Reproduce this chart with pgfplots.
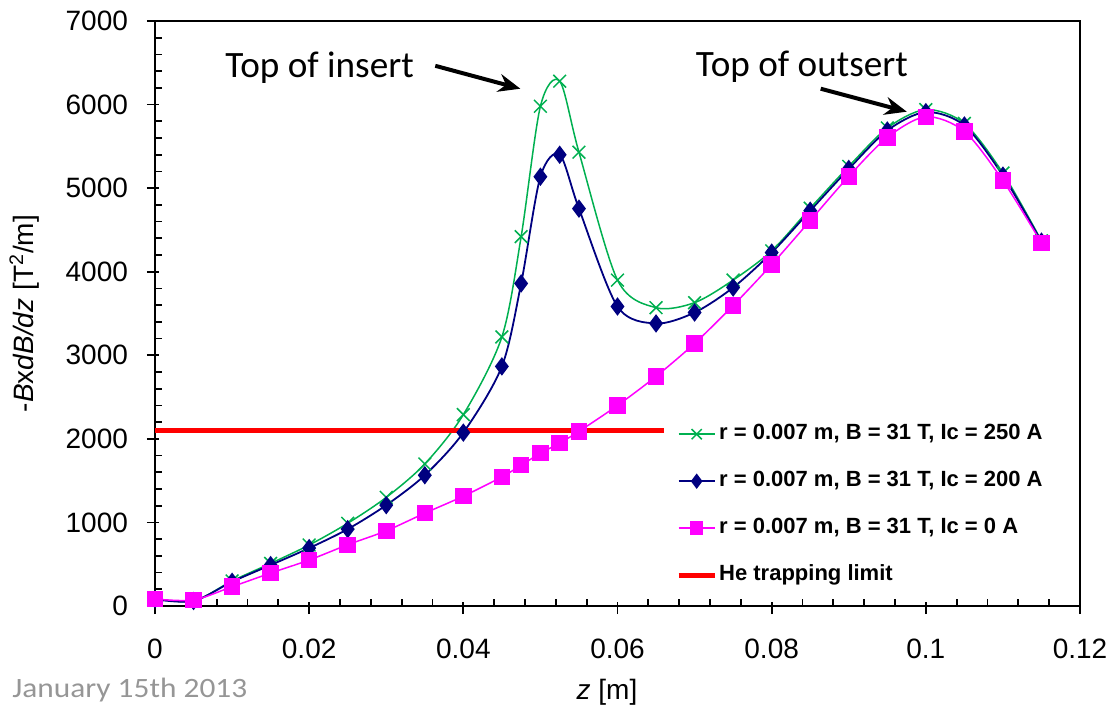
\documentclass[border=0pt]{standalone}
\usepackage{fontspec}
\setmainfont{Liberation Sans}
\newfontfamily\calibri{Carlito}
\newfontfamily\footfont[FakeStretch=1.12]{Carlito}
\usepackage{pgfplots}
\usepackage{pgfplotstable}
\pgfplotsset{compat=1.18}
\usetikzlibrary{arrows.meta}
\definecolor{cgreen}{RGB}{0,176,80}
\definecolor{cblue}{RGB}{0,0,128}
\definecolor{cpink}{RGB}{255,0,255}
\definecolor{cred}{RGB}{255,0,0}
\definecolor{cgray}{RGB}{150,150,150}

\pgfplotstableread{
z      g     b     p
0      90    80    84
0.005  60    60    72
0.01   300   290   231
0.015  510   490   394
0.02   730   693   550
0.025  990   920   733
0.03   1300  1207  900
0.035  1700  1565  1111
0.04   2290  2075  1314
0.045  3220  2867  1545
0.0475 4420  3860  1685
0.05   5980  5137  1828
0.0525 6280  5400  1950
0.055  5430  4755  2090
0.06   3900  3584  2400
0.065  3570  3381  2748
0.07   3630  3512  3142
0.075  3900  3811  3596
0.08   4250  4229  4086
0.085  4760  4730  4612
0.09   5260  5230  5141
0.095  5720  5690  5607
0.1    5940  5910  5854
0.105  5775  5750  5679
0.11   5180  5150  5090
0.115  4370  4360  4345
}\data

\begin{document}
\begin{tikzpicture}
\begin{axis}[
  scale only axis, width=462.5pt, height=292.5pt,
  xmin=0, xmax=0.12, ymin=0, ymax=7000,
  clip=false,
  xtick={0,0.02,0.04,0.06,0.08,0.1,0.12},
  xticklabels={0,0.02,0.04,0.06,0.08,0.1,0.12},
  ytick={0,1000,2000,3000,4000,5000,6000,7000},
  extra x ticks={0,0.02,0.04,0.06,0.08,0.1,0.12},
  extra x tick labels={},
  extra y ticks={0,1000,2000,3000,4000,5000,6000,7000},
  extra y tick labels={},
  extra tick style={tick align=outside, major tick length=4pt},
  /pgf/number format/assume math mode=true,
  /pgf/number format/1000 sep={},
  minor x tick num=4, minor y tick num=4,
  tick align=inside, tick pos=left,
  major tick length=2pt, minor tick length=3.5pt,
  tick style={black, line width=0.9pt},
  axis line style={black, line width=0.9pt},
  ticklabel style={font=\fontsize{14}{16}\selectfont},
  xticklabel style={yshift=-13pt},
  yticklabel style={xshift=-10pt},
  xlabel={\textit{z} [m]},
  ylabel={-\textit{B}x\textit{dB/dz} [T\textsuperscript{2}/m]},
  every axis x label/.style={at={([yshift=-46.5pt]rel axis cs:0.4886,0)}, anchor=base, font=\fontsize{14}{16}\selectfont},
  every axis y label/.style={at={([xshift=-65.25pt]rel axis cs:0,0.5)}, anchor=center, rotate=90, font=\fontsize{14}{16}\selectfont},
  legend style={at={(axis cs:0.06756,2210)}, anchor=north west, draw=none, fill=none,
    font=\bfseries\fontsize{11}{13}\selectfont, row sep=11pt, inner sep=0pt,
    nodes={inner sep=1pt, text height=8pt, text depth=2.5pt}},
  legend cell align=left,
  legend image code/.code={\draw[mark repeat=2,mark phase=2,#1,every mark/.append style={scale=0.8}] plot coordinates {(0pt,0pt) (9pt,0pt) (18pt,0pt)};},
]
\coordinate (O) at (rel axis cs:0,0);
\addplot[cgreen, line width=0.75pt, smooth, mark=x, mark size=4.5pt, mark options={line width=0.75pt}] table[x=z,y=g] {\data};
\addlegendentry{r = 0.007 m, B = 31 T, Ic = 250 A}
\addplot[cblue, line width=0.9pt, smooth, mark=diamond*, mark size=3.9pt, mark options={fill=cblue}] table[x=z,y=b] {\data};
\addlegendentry{r = 0.007 m, B = 31 T, Ic = 200 A}
\addplot[cpink, line width=0.75pt, smooth, mark=square*, mark size=3.75pt, mark options={fill=cpink}] table[x=z,y=p] {\data};
\addlegendentry{r = 0.007 m, B = 31 T, Ic = 0 A}
\addplot[cred, line width=2.5pt] coordinates {(0,2100) (0.066,2100)};
\addlegendentry{He trapping limit}
\node[font=\calibri\fontsize{18.6}{20}\selectfont, anchor=base west, inner sep=0pt] at (axis cs:0.00909,6321) {Top of insert};
\draw[-{Stealth[length=11pt,width=9pt]}, line width=2pt] (axis cs:0.03636,6464) -- (axis cs:0.0474,6190);
\node[font=\calibri\fontsize{18.6}{20}\selectfont, anchor=base west, inner sep=0pt] at (axis cs:0.07013,6333) {Top of outsert};
\draw[-{Stealth[length=11pt,width=9pt]}, line width=2pt] (axis cs:0.08636,6190) -- (axis cs:0.09753,5915);
\end{axis}
\node[font=\footfont\fontsize{14}{16}\selectfont, text=cgray, anchor=base west, inner sep=0pt] at ([shift={(-71.5pt,-45.5pt)}]O) {January 15th 2013};
\pgfresetboundingbox
\path ([shift={(-77.5pt,-51.5pt)}]O) rectangle ([shift={(478pt,303pt)}]O);
\end{tikzpicture}
\end{document}
